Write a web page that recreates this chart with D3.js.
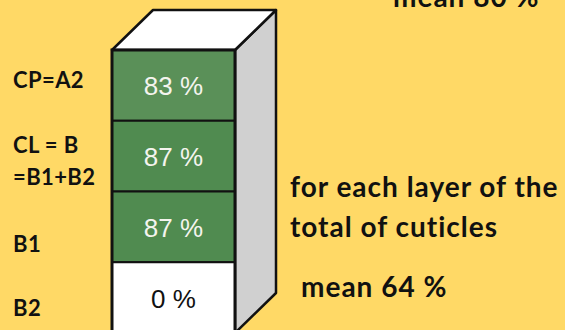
<!DOCTYPE html>
<html>
<head>
<meta charset="utf-8">
<script src="https://cdn.jsdelivr.net/npm/d3@7"></script>
<style>
  html, body { margin: 0; padding: 0; background: #ffd966; }
  svg { display: block; }
</style>
</head>
<body>
<script>
// Layers of the cuticle stack, top to bottom, with the share stained in each
const layers = ["CP=A2", "CL = B", "B1", "B2"];
const layerLabels = [["CP=A2"], ["CL = B", "=B1+B2"], ["B1"], ["B2"]];
const values = [83, 87, 87, 0];
const notes = ["for each layer of the", "total of cuticles"];
const meanLabels = ["mean 80 %", "mean 64 %"];

const W = 565, H = 330;
const svg = d3.select("body").append("svg").attr("width", W).attr("height", H);

// Front face of the block
const x0 = 112, x1 = 235;
const depthX = 41, depthY = -40;
const y = d3.scaleBand().domain(layers).range([50, 333]).paddingInner(0).paddingOuter(0);

const green = d3.scaleOrdinal().domain(layers).range(["#5a9058", "#508b50", "#508b50", "#ffffff"]);
const fillFor = (d, i) => values[i] > 0 ? green(d) : "#ffffff";

// Side face
const yTop = y.range()[0], yBot = y.range()[1];
svg.append("polygon")
  .attr("points", [[x1, yTop], [x1 + depthX, yTop + depthY], [x1 + depthX, yBot + depthY], [x1, yBot]].join(" "))
  .attr("fill", "#d0d0d0").attr("stroke", "#111").attr("stroke-width", 2.5).attr("stroke-linejoin", "round");

// Top face
svg.append("polygon")
  .attr("points", [[x0, yTop], [x0 + depthX, yTop + depthY], [x1 + depthX, yTop + depthY], [x1, yTop]].join(" "))
  .attr("fill", "#ffffff").attr("stroke", "#111").attr("stroke-width", 2.5).attr("stroke-linejoin", "round");

// Layer cells
svg.selectAll("rect.cell").data(layers).join("rect")
  .attr("class", "cell")
  .attr("x", x0).attr("width", x1 - x0)
  .attr("y", d => y(d)).attr("height", y.bandwidth())
  .attr("fill", fillFor)
  .attr("stroke", "#111").attr("stroke-width", 2);

// Outline of the front face
svg.append("rect")
  .attr("x", x0).attr("y", yTop).attr("width", x1 - x0).attr("height", yBot - yTop)
  .attr("fill", "none").attr("stroke", "#111").attr("stroke-width", 3);

// Percentages inside the cells
svg.selectAll("text.val").data(layers).join("text")
  .attr("class", "val")
  .attr("x", (x0 + x1) / 2)
  .attr("y", d => y(d) + y.bandwidth() / 2 + 10)
  .attr("text-anchor", "middle")
  .attr("font-family", "'Liberation Sans', Arial, sans-serif")
  .attr("font-size", 26)
  .attr("fill", (d, i) => values[i] > 0 ? "#f4f4ee" : "#111")
  .text((d, i) => values[i] + " %");

// Layer names on the left
const labelBaselines = [88, 153, 252, 316];
const labelFont = "Lato, 'Open Sans', sans-serif";
layerLabels.forEach((lines, i) => {
  const t = svg.append("text")
    .attr("x", 13).attr("y", labelBaselines[i])
    .attr("font-family", labelFont).attr("font-weight", "bold")
    .attr("font-size", 22).attr("letter-spacing", 0.4).attr("fill", "#111");
  lines.forEach((ln, j) => {
    t.append("tspan").attr("x", 13).attr("y", labelBaselines[i] + j * 32).text(ln);
  });
});

// Notes on the right
const noteG = svg.append("g")
  .attr("font-family", labelFont).attr("font-weight", "bold")
  .attr("font-size", 28).attr("letter-spacing", 1).attr("fill", "#111");
noteG.append("text").attr("x", 393).attr("y", 7).text(meanLabels[0]);
noteG.selectAll("text.note").data(notes).join("text")
  .attr("class", "note")
  .attr("x", 290).attr("y", (d, i) => 197 + i * 40)
  .text(d => d);
noteG.append("text").attr("x", 301).attr("y", 297).text(meanLabels[1]);
</script>
</body>
</html>
